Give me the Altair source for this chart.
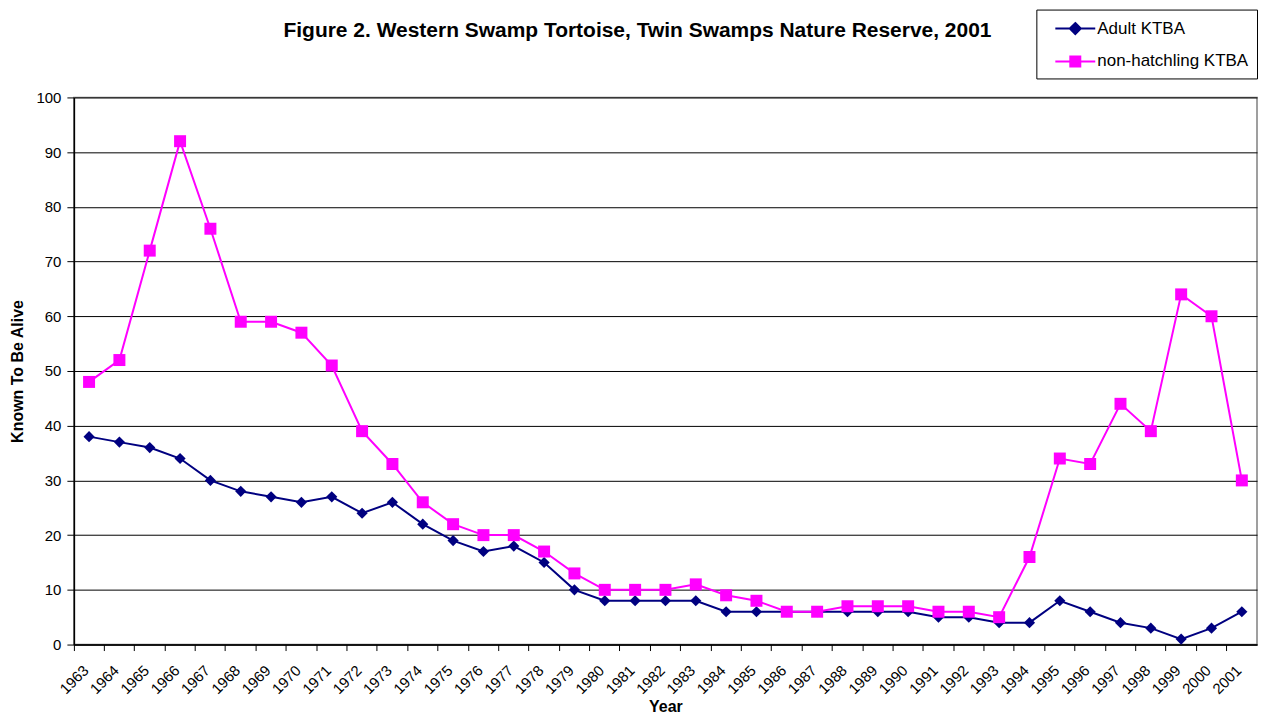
import altair as alt
import pandas as pd

years = ["1963", "1964", "1965", "1966", "1967", "1968", "1969", "1970", "1971", "1972",
         "1973", "1974", "1975", "1976", "1977", "1978", "1979", "1980", "1981", "1982",
         "1983", "1984", "1985", "1986", "1987", "1988", "1989", "1990", "1991", "1992",
         "1993", "1994", "1995", "1996", "1997", "1998", "1999", "2000", "2001"]
adult = [38, 37, 36, 34, 30, 28, 27, 26, 27, 24, 26, 22, 19, 17, 18, 15, 10, 8, 8, 8,
         8, 6, 6, 6, 6, 6, 6, 6, 5, 5, 4, 4, 8, 6, 4, 3, 1, 3, 6]
nonhatch = [48, 52, 72, 92, 76, 59, 59, 57, 51, 39, 33, 26, 22, 20, 20, 17, 13, 10, 10, 10,
            11, 9, 8, 6, 6, 7, 7, 7, 6, 6, 5, 16, 34, 33, 44, 39, 64, 60, 30]
series_names = ["Adult KTBA", "non-hatchling KTBA"]
series_colors = ["#000080", "#FF00FF"]
y_ticks = [0, 10, 20, 30, 40, 50, 60, 70, 80, 90, 100]

# legend symbol paths: line segment with marker in the middle
legend_paths = ["M0,0H4M2,-0.55L2.55,0L2,0.55L1.45,0Z",
                "M0,0H4M1.5,-0.5H2.5V0.5H1.5Z"]

FONT = "Liberation Sans"

df_adult = pd.DataFrame({"Year": years, "value": adult})
df_non = pd.DataFrame({"Year": years, "value": nonhatch})

x_enc = alt.X("Year:O", sort=years,
              scale=alt.Scale(type="band", paddingInner=0, paddingOuter=0),
              axis=alt.Axis(title="Year", labelAngle=-45, bandPosition=0, labelOffset=-8,
                            labelAlign="right", labelBaseline="top",
                            tickSize=6, labelPadding=12, titlePadding=2,
                            grid=False))
y_enc = alt.Y("value:Q",
              scale=alt.Scale(domain=[0, 100], nice=False, zero=True),
              axis=alt.Axis(title="Known To Be Alive", values=y_ticks, tickSize=7,
                            labelPadding=6, titlePadding=10, grid=True))

line_a = alt.Chart(df_adult).mark_line(color=series_colors[0], strokeWidth=2).encode(x=x_enc, y=y_enc)
pts_a = alt.Chart(df_adult).mark_point(shape="diamond", filled=True, size=125, opacity=1,
                                       color=series_colors[0]).encode(x=x_enc, y=y_enc)
line_n = alt.Chart(df_non).mark_line(color=series_colors[1], strokeWidth=2).encode(x=x_enc, y=y_enc)
pts_n = alt.Chart(df_non).mark_point(shape="square", filled=True, size=144, opacity=1,
                                     color=series_colors[1]).encode(x=x_enc, y=y_enc)

leg = alt.Legend(title=None, orient="none", legendX=964, legendY=-88,
                 strokeColor="black", fillColor="white", padding=8,
                 symbolSize=400, symbolStrokeWidth=2, labelOffset=31, rowPadding=12,
                 labelFont=FONT, labelFontSize=17, labelColor="black")
legend_df = pd.DataFrame({"series": series_names})
legend_layer = alt.Chart(legend_df).mark_point(filled=True, opacity=1, strokeWidth=2).encode(
    fill=alt.Fill("series:N", scale=alt.Scale(domain=series_names, range=series_colors), legend=leg),
    stroke=alt.Stroke("series:N", scale=alt.Scale(domain=series_names, range=series_colors), legend=leg),
    shape=alt.Shape("series:N", scale=alt.Scale(domain=series_names, range=legend_paths), legend=leg),
).transform_filter("false")

chart = alt.layer(line_a, pts_a, line_n, pts_n, legend_layer).properties(
    width=1185, height=548,
    background="white",
    padding={"left": 1, "top": 0, "right": 0, "bottom": 0},
    title=alt.TitleParams(
        text="Figure 2. Western Swamp Tortoise, Twin Swamps Nature Reserve, 2001",
        font=FONT, fontSize=21, fontWeight="bold", color="black",
        anchor="middle", baseline="alphabetic", dx=-28, dy=49, offset=0),
).configure_view(
    fill="#FFFFCC", stroke="#808080", strokeWidth=1.5
).configure_axis(
    labelFont=FONT, labelFontSize=15, labelColor="black",
    titleFont=FONT, titleFontSize=16, titleFontWeight="bold", titleColor="black",
    domainColor="black", domainWidth=1.5, tickColor="black", tickWidth=1,
    gridColor="black", gridWidth=1, gridOpacity=1,
)

chart.save("out.html", embed_options={"renderer": "svg", "actions": False})
